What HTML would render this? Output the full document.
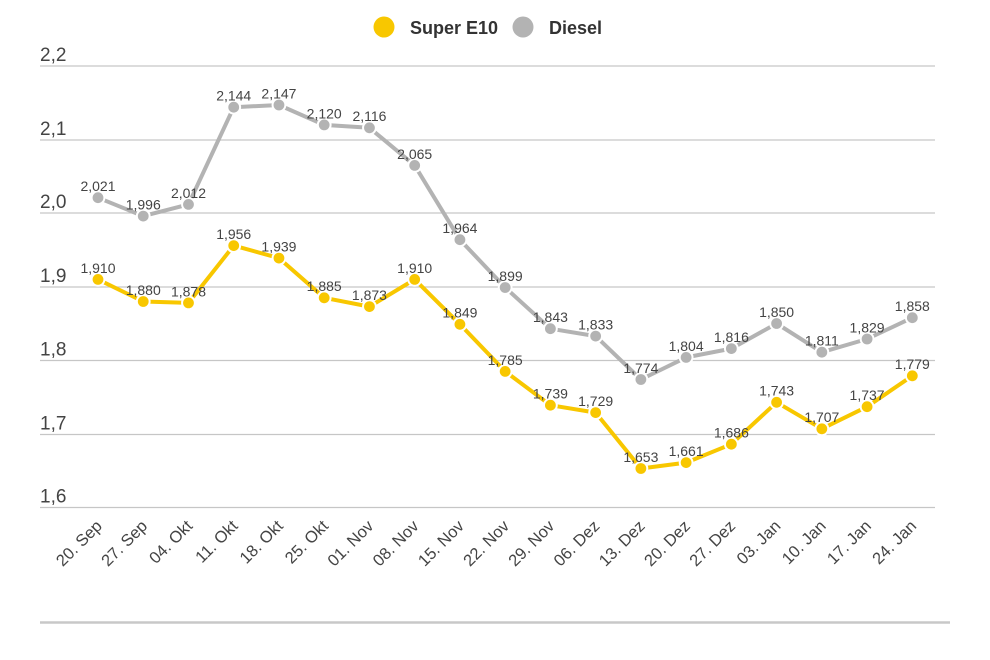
<!DOCTYPE html>
<html><head><meta charset="utf-8"><style>
html,body{margin:0;padding:0;background:#fff;}
svg{display:block;font-family:"Liberation Sans",sans-serif;}
</style></head><body>
<svg width="990" height="660" viewBox="0 0 990 660" xmlns="http://www.w3.org/2000/svg">
<rect width="990" height="660" fill="#fff"/>
<!-- legend -->
<circle cx="384" cy="27" r="10.5" fill="#f8c700"/>
<text x="410" y="34" font-size="18" font-weight="bold" fill="#333">Super E10</text>
<circle cx="523" cy="27" r="10.5" fill="#b3b3b3"/>
<text x="549" y="34" font-size="18" font-weight="bold" fill="#333">Diesel</text>
<!-- grid -->
<g stroke="#c6c6c6" stroke-width="1.3">
<line x1="40" y1="66" x2="935" y2="66"/>
<line x1="40" y1="140" x2="935" y2="140"/>
<line x1="40" y1="213" x2="935" y2="213"/>
<line x1="40" y1="287" x2="935" y2="287"/>
<line x1="40" y1="360.5" x2="935" y2="360.5"/>
<line x1="40" y1="434.5" x2="935" y2="434.5"/>
<line x1="40" y1="507.5" x2="935" y2="507.5"/>
</g>
<line x1="40" y1="622.5" x2="950" y2="622.5" stroke="#c8c8c8" stroke-width="2.5"/>
<g font-size="19" fill="#444">
<text x="40" y="61">2,2</text>
<text x="40" y="135">2,1</text>
<text x="40" y="208">2,0</text>
<text x="40" y="282">1,9</text>
<text x="40" y="355.5">1,8</text>
<text x="40" y="429.5">1,7</text>
<text x="40" y="502.5">1,6</text>
</g>
<!-- lines -->
<polyline fill="none" stroke="#b3b3b3" stroke-width="4" stroke-linejoin="round" points="98,197.7 143.24,216.1 188.48,204.4 233.72,107.2 278.96,105 324.2,124.9 369.44,127.8 414.68,165.4 459.92,239.7 505.16,287.5 550.4,328.7 595.64,336.1 640.88,379.5 686.12,357.4 731.36,348.6 776.6,323.5 821.84,352.2 867.08,339 912.32,317.7"/>
<polyline fill="none" stroke="#f8c700" stroke-width="4" stroke-linejoin="round" points="98,279.4 143.24,301.5 188.48,302.9 233.72,245.6 278.96,258.1 324.2,297.8 369.44,306.6 414.68,279.4 459.92,324.3 505.16,371.4 550.4,405.2 595.64,412.6 640.88,468.5 686.12,462.6 731.36,444.2 776.6,402.3 821.84,428.8 867.08,406.7 912.32,375.8"/>
<!-- markers -->
<g fill="#b3b3b3" stroke="#fff" stroke-width="2">
<circle cx="98" cy="197.7" r="6.4"/><circle cx="143.24" cy="216.1" r="6.4"/><circle cx="188.48" cy="204.4" r="6.4"/><circle cx="233.72" cy="107.2" r="6.4"/><circle cx="278.96" cy="105" r="6.4"/><circle cx="324.2" cy="124.9" r="6.4"/><circle cx="369.44" cy="127.8" r="6.4"/><circle cx="414.68" cy="165.4" r="6.4"/><circle cx="459.92" cy="239.7" r="6.4"/><circle cx="505.16" cy="287.5" r="6.4"/><circle cx="550.4" cy="328.7" r="6.4"/><circle cx="595.64" cy="336.1" r="6.4"/><circle cx="640.88" cy="379.5" r="6.4"/><circle cx="686.12" cy="357.4" r="6.4"/><circle cx="731.36" cy="348.6" r="6.4"/><circle cx="776.6" cy="323.5" r="6.4"/><circle cx="821.84" cy="352.2" r="6.4"/><circle cx="867.08" cy="339" r="6.4"/><circle cx="912.32" cy="317.7" r="6.4"/>
</g>
<g fill="#f8c700" stroke="#fff" stroke-width="2">
<circle cx="98" cy="279.4" r="6.4"/><circle cx="143.24" cy="301.5" r="6.4"/><circle cx="188.48" cy="302.9" r="6.4"/><circle cx="233.72" cy="245.6" r="6.4"/><circle cx="278.96" cy="258.1" r="6.4"/><circle cx="324.2" cy="297.8" r="6.4"/><circle cx="369.44" cy="306.6" r="6.4"/><circle cx="414.68" cy="279.4" r="6.4"/><circle cx="459.92" cy="324.3" r="6.4"/><circle cx="505.16" cy="371.4" r="6.4"/><circle cx="550.4" cy="405.2" r="6.4"/><circle cx="595.64" cy="412.6" r="6.4"/><circle cx="640.88" cy="468.5" r="6.4"/><circle cx="686.12" cy="462.6" r="6.4"/><circle cx="731.36" cy="444.2" r="6.4"/><circle cx="776.6" cy="402.3" r="6.4"/><circle cx="821.84" cy="428.8" r="6.4"/><circle cx="867.08" cy="406.7" r="6.4"/><circle cx="912.32" cy="375.8" r="6.4"/>
</g>
<!-- data labels -->
<g font-size="14" fill="#444" text-anchor="middle">
<text x="98" y="191">2,021</text><text x="143.24" y="209.5">1,996</text><text x="188.48" y="197.8">2,012</text><text x="233.72" y="100.6">2,144</text><text x="278.96" y="98.4">2,147</text><text x="324.2" y="118.3">2,120</text><text x="369.44" y="121.2">2,116</text><text x="414.68" y="158.8">2,065</text><text x="459.92" y="233.1">1,964</text><text x="505.16" y="280.9">1,899</text><text x="550.4" y="322.1">1,843</text><text x="595.64" y="329.5">1,833</text><text x="640.88" y="372.9">1,774</text><text x="686.12" y="350.8">1,804</text><text x="731.36" y="342">1,816</text><text x="776.6" y="316.9">1,850</text><text x="821.84" y="345.6">1,811</text><text x="867.08" y="332.4">1,829</text><text x="912.32" y="311.1">1,858</text>
<text x="98" y="272.8">1,910</text><text x="143.24" y="294.9">1,880</text><text x="188.48" y="296.3">1,878</text><text x="233.72" y="239">1,956</text><text x="278.96" y="251.5">1,939</text><text x="324.2" y="291.2">1,885</text><text x="369.44" y="300">1,873</text><text x="414.68" y="272.8">1,910</text><text x="459.92" y="317.7">1,849</text><text x="505.16" y="364.8">1,785</text><text x="550.4" y="398.6">1,739</text><text x="595.64" y="406">1,729</text><text x="640.88" y="461.9">1,653</text><text x="686.12" y="456">1,661</text><text x="731.36" y="437.6">1,686</text><text x="776.6" y="395.7">1,743</text><text x="821.84" y="422.2">1,707</text><text x="867.08" y="400.1">1,737</text><text x="912.32" y="369.2">1,779</text>
</g>
<!-- x labels -->
<g font-size="16.5" fill="#444" text-anchor="end">
<text transform="translate(103,527) rotate(-45)">20. Sep</text>
<text transform="translate(148.24,527) rotate(-45)">27. Sep</text>
<text transform="translate(193.48,527) rotate(-45)">04. Okt</text>
<text transform="translate(238.72,527) rotate(-45)">11. Okt</text>
<text transform="translate(283.96,527) rotate(-45)">18. Okt</text>
<text transform="translate(329.2,527) rotate(-45)">25. Okt</text>
<text transform="translate(374.44,527) rotate(-45)">01. Nov</text>
<text transform="translate(419.68,527) rotate(-45)">08. Nov</text>
<text transform="translate(464.92,527) rotate(-45)">15. Nov</text>
<text transform="translate(510.16,527) rotate(-45)">22. Nov</text>
<text transform="translate(555.4,527) rotate(-45)">29. Nov</text>
<text transform="translate(600.64,527) rotate(-45)">06. Dez</text>
<text transform="translate(645.88,527) rotate(-45)">13. Dez</text>
<text transform="translate(691.12,527) rotate(-45)">20. Dez</text>
<text transform="translate(736.36,527) rotate(-45)">27. Dez</text>
<text transform="translate(781.6,527) rotate(-45)">03. Jan</text>
<text transform="translate(826.84,527) rotate(-45)">10. Jan</text>
<text transform="translate(872.08,527) rotate(-45)">17. Jan</text>
<text transform="translate(917.32,527) rotate(-45)">24. Jan</text>
</g>
</svg>
</body></html>
